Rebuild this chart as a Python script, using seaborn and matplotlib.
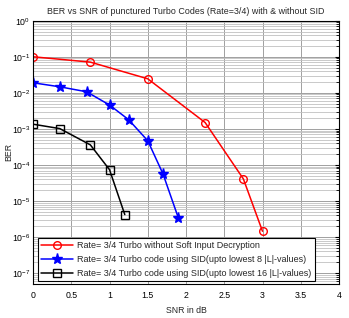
import matplotlib
matplotlib.use("Agg")
import matplotlib.pyplot as plt
import seaborn as sns
import pandas as pd
import numpy as np
from matplotlib.ticker import FixedLocator, NullFormatter, LogFormatterMathtext

# Data
snr_red = [0.0, 0.75, 1.5, 2.25, 2.75, 3.0]
ber_red = [0.1, 0.071, 0.0245, 1.5e-3, 4.1e-5, 1.45e-6]

snr_blue = [0.0, 0.35, 0.7, 1.0, 1.25, 1.5, 1.7, 1.9]
ber_blue = [0.019, 0.0147, 0.0107, 4.6e-3, 1.8e-3, 4.7e-4, 5.6e-5, 3.4e-6]

snr_black = [0.0, 0.35, 0.75, 1.0, 1.2]
ber_black = [1.35e-3, 1.02e-3, 3.6e-4, 7.4e-5, 4.2e-6]

labels = [
    "Rate= 3/4 Turbo without Soft Input Decryption",
    "Rate= 3/4 Turbo code using SID(upto lowest 8 |L|-values)",
    "Rate= 3/4 Turbo code using SID(upto lowest 16 |L|-values)",
]
xticks = [0, 0.5, 1, 1.5, 2, 2.5, 3, 3.5, 4]
xticklabels = ["0", "0.5", "1", "1.5", "2", "2.5", "3", "3.5", "4"]
ytick_exponents = [-7, -6, -5, -4, -3, -2, -1, 0]
title = "BER vs SNR of punctured Turbo Codes (Rate=3/4) with & without SID"
xlabel = "SNR in dB"
ylabel = "BER"

sns.set_style("white")
plt.rcParams["font.family"] = ["Liberation Sans", "DejaVu Sans"]

fig = plt.figure(figsize=(3.49, 3.18), dpi=100)
ax = fig.add_axes([33 / 349, 1 - 284 / 318, (339 - 33) / 349, (284 - 20.7) / 318])

series = [
    (snr_red, ber_red, labels[0], "#ff0000", "o", "none", 5.5),
    (snr_blue, ber_blue, labels[1], "#0000ff", "*", "#0000ff", 8),
    (snr_black, ber_black, labels[2], "#000000", "s", "none", 5.5),
]
for xs, ys, lab, col, mk, fc, ms in series:
    df = pd.DataFrame({"snr": xs, "ber": ys})
    sns.lineplot(data=df, x="snr", y="ber", ax=ax, color=col, marker=mk,
                 markersize=ms, markerfacecolor=fc,
                 markeredgecolor=col, markeredgewidth=1.0, linewidth=1.1,
                 label=lab)

ax.set_yscale("log")
ax.set_xlim(0, 4)
ax.set_ylim(5e-8, 1)
ax.set_xticks(xticks)
ax.set_xticklabels(xticklabels)
major = [10.0 ** e for e in ytick_exponents]
minor = [m * 10.0 ** e for e in range(-8, 0) for m in range(2, 10)]
minor = [v for v in minor if 5e-8 <= v <= 1]
ax.yaxis.set_major_locator(FixedLocator(major))
ax.yaxis.set_major_formatter(LogFormatterMathtext())
ax.yaxis.set_minor_locator(FixedLocator(minor))
ax.yaxis.set_minor_formatter(NullFormatter())

ax.grid(True, which="major", axis="both", color="#a0a0a0", linewidth=0.7, linestyle="-")
ax.grid(True, which="minor", axis="y", color="#c0c0c0", linewidth=0.6, linestyle="-")
ax.set_axisbelow(True)

ax.tick_params(axis="both", which="both", direction="in", top=False, right=True,
               labelsize=6.3, colors="black", length=3)
ax.tick_params(axis="x", which="major", pad=5)
ax.tick_params(axis="y", which="major", pad=2)
ax.tick_params(axis="y", which="minor", length=2)
for sp in ax.spines.values():
    sp.set_color("black")
    sp.set_linewidth(0.8)

ax.set_title(title, fontsize=6.4, pad=5)
ax.set_xlabel(xlabel, fontsize=6.3)
ax.set_ylabel(ylabel, fontsize=6.3)
ax.xaxis.set_label_coords(0.5, -0.085)
ax.yaxis.set_label_coords(-0.066, 0.5)

leg = ax.legend(loc="lower left", bbox_to_anchor=(0.016, 0.011), borderaxespad=0,
                fontsize=6.5, handlelength=3.5, frameon=True, fancybox=False,
                framealpha=1, edgecolor="black", borderpad=0.35, labelspacing=0.55,
                handletextpad=0.5)
leg.get_frame().set_linewidth(0.8)

fig.savefig("out.png", dpi=100)
